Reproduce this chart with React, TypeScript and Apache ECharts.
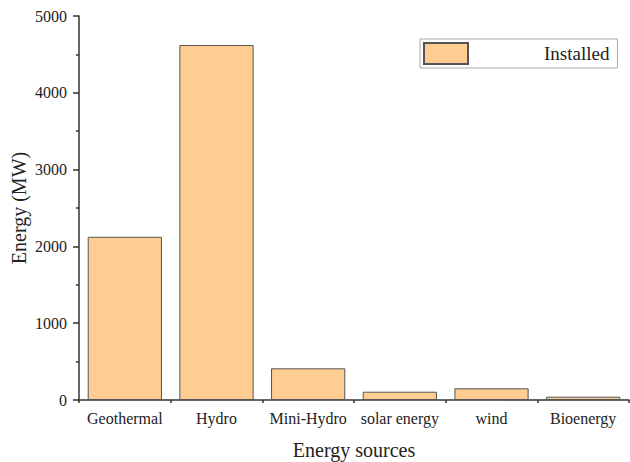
import React, { useEffect, useRef } from "react";
import * as echarts from "echarts";

const categories = ["Geothermal", "Hydro", "Mini-Hydro", "solar energy", "wind", "Bioenergy"];
const installed = [2125, 4622, 413, 108, 152, 43];
const seriesName = "Installed";

const FONT = "Liberation Serif";

export default function App() {
  const ref = useRef<HTMLDivElement>(null);
  useEffect(() => {
    if (!ref.current) return;
    const chart = echarts.init(ref.current, null, { renderer: "svg" });
    chart.setOption({
      animation: false,
      backgroundColor: "#ffffff",
      textStyle: { fontFamily: FONT },
      grid: { left: 79, right: 1, top: 16, bottom: 62, containLabel: false, outerBoundsMode: "none" },
      legend: {
        show: true,
        left: 420,
        top: 39,
        orient: "horizontal",
        data: [seriesName],
        itemWidth: 44,
        itemHeight: 21,
        itemGap: 0,
        padding: [3, 8, 3, 3],
        borderColor: "#aaaaaa",
        borderWidth: 1,
        icon: "rect",
        textStyle: { fontFamily: FONT, fontSize: 19, color: "#222", padding: [0, 0, 0, 71] },
      },
      xAxis: [
        {
          type: "category",
          data: categories,
          position: "bottom",
          name: "Energy sources",
          nameLocation: "middle",
          nameGap: 40,
          nameTextStyle: { fontFamily: FONT, fontSize: 20, color: "#222" },
          axisLine: { lineStyle: { color: "#333", width: 1.5 } },
          axisTick: { alignWithLabel: true, length: 7, lineStyle: { color: "#333", width: 1.5 } },
          axisLabel: { fontFamily: FONT, fontSize: 16, color: "#222", margin: 10, interval: 0 },
        },
        {
          type: "category",
          data: categories,
          position: "bottom",
          axisLine: { show: false },
          axisTick: { show: true, length: 3, lineStyle: { color: "#333", width: 1.5 } },
          axisLabel: { show: false },
        },
      ],
      yAxis: {
        type: "value",
        min: 0,
        max: 5000,
        interval: 1000,
        name: "Energy (MW)",
        nameLocation: "middle",
        nameGap: 50,
        nameMoveOverlap: false,
        nameTextStyle: { fontFamily: FONT, fontSize: 20, color: "#222" },
        axisLine: { show: true, lineStyle: { color: "#333", width: 1.5 } },
        axisTick: { show: true, length: 6, lineStyle: { color: "#333", width: 1.5 } },
        minorTick: { show: true, splitNumber: 2, length: 3, lineStyle: { color: "#333", width: 1.5 } },
        splitLine: { show: false },
        axisLabel: {
          fontFamily: FONT,
          fontSize: 16,
          color: "#222",
          margin: 12,
          formatter: (v: number) => String(v),
        },
      },
      series: [
        {
          name: seriesName,
          type: "bar",
          data: installed,
          barCategoryGap: "19%",
          itemStyle: { color: "#FFCC91", borderColor: "#555555", borderWidth: 1 },
        },
      ],
    });
    return () => chart.dispose();
  }, []);
  return (
    <div
      ref={ref}
      style={{ position: "fixed", left: 0, top: 0, width: 630, height: 462 }}
    />
  );
}
